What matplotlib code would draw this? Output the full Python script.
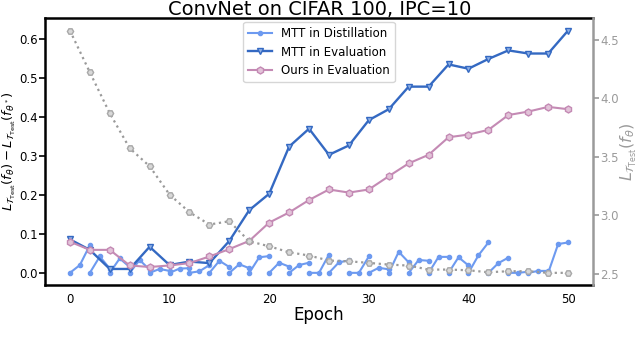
import numpy as np
import matplotlib
matplotlib.use("Agg")
import matplotlib.pyplot as plt

# evaluation epochs (every 2 epochs)
epochs = list(range(0, 51, 2))
mtt_eval = [0.086, 0.059, 0.010, 0.010, 0.067, 0.020, 0.029, 0.025, 0.082, 0.161,
            0.203, 0.324, 0.370, 0.303, 0.327, 0.392, 0.420, 0.478, 0.478, 0.535,
            0.524, 0.549, 0.571, 0.563, 0.563, 0.622]
ours_eval = [0.080, 0.059, 0.059, 0.019, 0.015, 0.019, 0.025, 0.042, 0.061, 0.082,
             0.129, 0.155, 0.187, 0.214, 0.206, 0.214, 0.248, 0.281, 0.303, 0.348,
             0.355, 0.367, 0.405, 0.414, 0.426, 0.420]
test_loss = [4.577, 4.22, 3.87, 3.571, 3.417, 3.175, 3.024, 2.919, 2.947, 2.776,
             2.733, 2.682, 2.654, 2.611, 2.605, 2.591, 2.577, 2.568, 2.534, 2.534,
             2.528, 2.511, 2.52, 2.52, 2.506, 2.506]

# MTT in distillation: one short piece per 2 epochs (start, middle, end)
distill_starts = list(range(0, 50, 2))
distill_vals = [[0, 0.020, 0.071], [0, 0.042, 0.011], [0, 0.037, 0.015],
                [0, 0.033, 0.008], [0, 0.010, 0.005], [0, 0.011, 0.012],
                [0, 0.004, 0.020], [0, 0.031, 0.015], [0, 0.022, 0.012],
                [0, 0.040, 0.043], [0, 0.026, 0.016], [0, 0.020, 0.026],
                [0, 0.000, 0.047], [0, 0.027, 0.032], [0, 0.000, 0.042],
                [0, 0.013, 0.009], [0, 0.054, 0.027], [0, 0.033, 0.031],
                [0, 0.041, 0.041], [0, 0.040, 0.019], [0, 0.045, 0.078],
                [0, 0.025, 0.039], [0, 0.000, 0.003], [0, 0.005, 0.005],
                [0, 0.074, 0.078]]

dx = []
dy = []
for s, v in zip(distill_starts, distill_vals):
    dx += [s, s + 1, s + 2, np.nan]
    dy += [v[0], v[1], v[2], np.nan]

c_light = "#6d9af0"
c_dark = "#3469c2"
c_pink = "#c48ab4"
c_gray = "#9a9a9a"

fig = plt.figure(figsize=(6.4, 3.54), dpi=100)
ax = fig.add_axes([0.0703, 0.195, 0.8563, 0.753])

ax.plot(dx, dy, "-o", color=c_light, lw=1.5, ms=3, label="MTT in Distillation")
ax.plot(epochs, mtt_eval, "-v", color=c_dark, lw=1.7, ms=5,
        mfc="#8fb0e6", mec=c_dark, label="MTT in Evaluation")
ax.plot(epochs, ours_eval, "-h", color=c_pink, lw=1.5, ms=5,
        mfc="#e2c3d8", mec=c_pink, label="Ours in Evaluation")

ax2 = ax.twinx()
ax2.plot(epochs, test_loss, ":", color=c_gray, lw=1.6, marker="H", ms=4.5,
         mfc="#d8d8d8", mec="#a8a8a8")

fig.text(0.5, 1 - 15 / 354, "ConvNet on CIFAR 100, IPC=10", fontsize=14,
         ha="center", va="baseline")
ax.set_xlabel("Epoch", fontsize=12, labelpad=0)
ax.set_ylabel(r"$L_{\mathcal{T}_{\mathrm{Test}}}(f_{\theta}) - L_{\mathcal{T}_{\mathrm{Test}}}(f_{\theta^*})$",
              fontsize=9.5)
ax.yaxis.set_label_coords(-0.05, 0.5)
ax2.set_ylabel(r"$L_{\mathcal{T}_{\mathrm{Test}}}(f_{\theta})$", fontsize=11.5,
               color=c_gray)
ax2.yaxis.set_label_coords(1.047, 0.5)

ax.set_xticks([0, 10, 20, 30, 40, 50])
ax.set_yticks([0.0, 0.1, 0.2, 0.3, 0.4, 0.5, 0.6])
ax2.set_yticks([2.5, 3.0, 3.5, 4.0, 4.5])
ax.tick_params(axis="both", labelsize=8.5, width=1.2, length=4, color="black")
ax.tick_params(axis="x", length=0, pad=6)
ax.tick_params(axis="y", pad=1)
ax2.tick_params(axis="y", labelsize=8.5, colors=c_gray, width=1.2, length=4, pad=1)

for side in ["left", "bottom", "top"]:
    ax.spines[side].set_linewidth(1.8)
ax.spines["right"].set_visible(False)
ax2.spines["left"].set_visible(False)
ax2.spines["bottom"].set_visible(False)
ax2.spines["top"].set_visible(False)
ax2.spines["right"].set_color(c_gray)
ax2.spines["right"].set_linewidth(1.8)

ax.legend(loc="upper center", fontsize=8.5, frameon=True, borderaxespad=0.3)

fig.savefig("out.png", dpi=100)
